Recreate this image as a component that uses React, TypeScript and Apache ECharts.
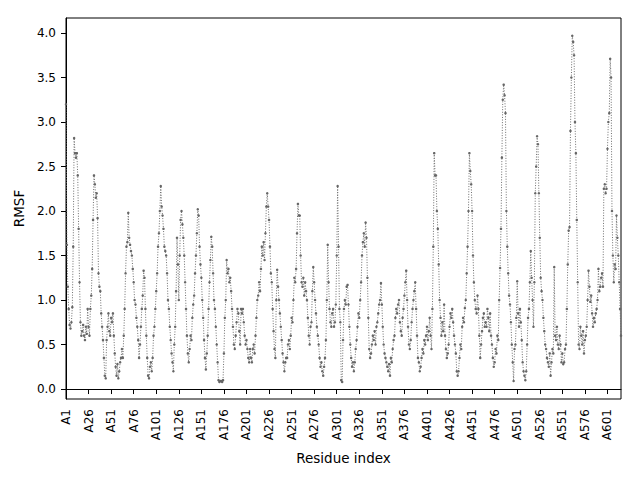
import React, { useEffect, useRef } from "react";
import * as echarts from "echarts";

// RMSF per residue (A1 .. A616)
const rmsfA1 = [
  3.2, 1.62, 1.15, 0.9, 0.72, 0.68, 0.75, 0.92, 1.6, 2.82,
  2.65, 2.6, 2.65, 2.4, 1.8, 1.2, 0.75, 0.6, 0.65, 0.72,
  0.6, 0.55, 0.7, 0.62, 0.9, 0.7, 0.6, 0.9, 1.05, 1.35,
  1.9, 2.4, 2.3, 2.15, 2.2, 1.92, 1.3, 1.15, 1.1, 0.85,
  0.7, 0.55, 0.35, 0.15, 0.12, 0.55, 0.7, 0.85, 0.65, 0.6,
  0.8, 0.75, 0.85, 0.6, 0.4, 0.25, 0.15, 0.28, 0.12, 0.2,
  0.3, 0.35, 0.45, 0.35, 0.6, 0.9, 1.3, 1.6, 1.65,
  1.98, 1.7, 1.62, 1.55, 1.5, 1.35, 1.2, 1.0, 0.95, 0.8,
  0.7, 0.55, 0.35, 0.5, 0.7, 0.9, 1.05, 1.33, 1.25, 0.9,
  0.6, 0.35, 0.15, 0.12, 0.25, 0.3, 0.2, 0.35, 0.6, 0.7,
];
const rmsfA100 = [
  0.9, 1.1, 1.3, 1.6, 1.75, 2.0, 2.28, 2.05, 1.95, 1.8,
  1.6, 1.55, 1.5, 1.3, 1.0, 0.9, 0.7, 0.55, 0.4, 0.3,
  0.2, 0.5, 0.7, 1.1, 1.7, 1.4, 1.0, 1.5, 1.9, 2.0,
  1.85, 1.7, 1.5, 1.2, 0.9, 0.6, 0.4, 0.3, 0.45, 0.6,
  0.55, 0.8, 0.95, 1.05, 1.3, 1.5, 1.75, 2.02, 1.95, 1.6,
  1.4, 1.25, 1.0, 0.8, 0.55, 0.35, 0.22, 0.4, 0.6, 0.9,
  1.2, 1.45, 1.71, 1.6, 1.3, 1.0, 0.9, 0.7, 0.5, 0.3,
  0.1, 0.08, 0.09, 0.09, 0.08, 0.1, 0.4, 0.8, 1.0,
  1.45, 1.3, 1.35, 1.2, 1.25, 1.1, 0.9, 0.7, 0.5, 0.45,
  0.6, 0.75, 0.9, 0.85, 0.65, 0.5, 0.9, 0.85, 0.9, 0.75,
];
const rmsfA199 = [
  0.6, 0.5, 0.55, 0.45, 0.35, 0.3, 0.45, 0.35, 0.3, 0.45,
  0.5, 0.4, 0.6, 0.8, 1.0, 1.05, 1.2, 1.1, 1.35, 1.6,
  1.5, 1.65, 1.45, 1.75, 2.05, 2.2, 2.05, 1.9, 1.6, 1.3,
  1.2, 0.9, 0.65, 0.45, 0.35, 1.0, 1.34, 1.15, 1.0, 0.85,
  0.7, 0.55, 0.4, 0.3, 0.2, 0.3, 0.35, 0.35, 0.5,
  0.55, 0.45, 0.6, 0.8, 0.75, 1.0, 1.25, 1.2, 1.35, 1.75,
  2.08, 1.95, 1.95, 1.5, 1.2, 1.15, 1.25, 1.05, 1.2, 1.1,
  1.0, 0.8, 0.6, 0.5, 0.7, 0.75, 1.1, 1.37, 1.2, 1.0,
  0.85, 0.7, 0.6, 0.5, 0.35, 0.25, 0.3, 0.2, 0.15, 0.25,
  0.35, 0.55, 1.0, 1.62, 1.2, 0.9, 0.75, 0.7, 0.85, 0.9,
];
const rmsfA298 = [
  0.7, 0.75, 0.95, 1.5, 2.28, 1.6, 0.9, 0.75, 0.1, 0.08,
  0.55, 0.9, 1.0, 0.95, 1.15, 1.17, 0.95, 0.7, 0.5, 0.35,
  0.25, 0.3, 0.2, 0.3, 0.45, 0.55, 0.7, 0.85, 0.8, 1.0,
  1.2, 1.5, 1.65, 1.75, 1.6, 1.87, 1.7, 1.25, 0.8, 0.45,
  0.35, 0.4, 0.5, 0.6, 0.55, 0.65, 0.5, 0.7, 0.75,
  0.85, 0.95, 1.0, 1.19, 0.95, 0.7, 0.5, 0.4, 0.35, 0.3,
  0.25, 0.2, 0.28, 0.15, 0.35, 0.3, 0.45, 0.55, 0.6, 0.8,
  0.9, 0.85, 0.95, 1.0, 0.75, 0.65, 0.6, 0.8, 0.9, 1.05,
  1.2, 1.33, 1.0, 0.7, 0.5, 0.45, 0.55, 0.75, 0.9, 1.0,
  1.1, 1.2, 0.9, 0.6, 0.35, 0.3, 0.2, 0.25, 0.35, 0.45,
];
const rmsfA397 = [
  0.4, 0.55, 0.5, 0.6, 0.7, 0.55, 0.65, 0.8, 0.6, 0.45,
  0.9, 1.6, 2.65, 2.4, 2.4, 2.0, 1.8, 1.4, 1.0, 0.8,
  0.6, 0.75, 0.65, 0.95, 0.6, 0.45, 0.35, 0.4, 0.5, 0.7,
  0.85, 0.8, 0.9, 0.75, 0.6, 0.5, 0.4, 0.2, 0.15,
  0.2, 0.35, 0.5, 0.45, 0.7, 0.8, 0.75, 0.91, 1.0, 1.3,
  1.6, 2.0, 2.65, 2.45, 2.3, 2.0, 1.5, 1.2, 1.0, 0.9,
  0.85, 1.05, 0.9, 0.6, 0.35, 0.5, 0.65, 0.8, 0.85, 0.7,
  0.75, 0.7, 0.9, 0.8, 0.65, 0.85, 0.6, 0.5, 0.35, 0.25,
  0.3, 0.45, 0.4, 0.6, 0.55, 1.0, 1.36, 1.8, 2.6, 3.25,
  3.42, 3.3, 3.1, 2.0, 1.6, 1.3, 1.05, 0.95, 0.75, 0.5,
];
const rmsfA496 = [
  0.3, 0.09, 0.45, 0.5, 0.8, 1.21, 0.85, 0.7, 0.9, 0.75,
  0.55, 0.3, 0.2, 0.15, 0.1, 0.2, 0.5, 0.8, 0.9, 1.2,
  1.55, 1.25, 1.0, 0.7, 1.2, 2.2, 2.5, 2.84, 2.75, 2.2,
  1.7, 1.25, 1.1, 1.0, 0.8, 0.65, 0.5, 0.45, 0.35, 0.3,
  0.25, 0.4, 0.15, 0.3, 0.45, 0.4, 1.37, 0.6, 0.55, 0.7,
  0.5, 0.45, 0.6, 0.5, 0.3, 0.4, 0.28, 0.3, 0.45,
  0.5, 0.9, 1.4, 1.78, 1.82, 2.9, 3.5, 3.97, 3.9, 3.75,
  3.0, 2.65, 1.9, 1.2, 0.5, 0.45, 0.7, 0.6, 0.5, 0.65,
  0.4, 0.55, 0.6, 0.7, 1.0, 1.33, 1.15, 0.98, 1.05, 0.85,
  0.7, 0.8, 0.75, 0.85, 0.9, 1.0, 1.35, 1.1, 1.15, 1.25,
];
const rmsfA595 = [
  1.3, 1.15, 2.25, 2.3, 2.2, 2.25, 2.7, 3.0, 3.1, 3.71,
  3.5, 2.0, 1.5, 1.2, 1.4, 1.35, 1.95, 1.7, 1.5, 1.2,
  0.9, 0.6,
];

const rmsf = [
  ...rmsfA1, ...rmsfA100, ...rmsfA199, ...rmsfA298,
  ...rmsfA397, ...rmsfA496, ...rmsfA595,
];
const residues = rmsf.map((_, i) => `A${i + 1}`);
const yTicks = [0, 0.5, 1, 1.5, 2, 2.5, 3, 3.5, 4];
const labelEvery = 25;

export default function App() {
  const ref = useRef<HTMLDivElement>(null);
  useEffect(() => {
    const chart = echarts.init(ref.current as HTMLDivElement, null, { renderer: "svg" });
    const font = "DejaVu Sans";
    chart.setOption({
      animation: false,
      backgroundColor: "#ffffff",
      textStyle: { fontFamily: font },
      grid: {
        left: 66, right: 19, top: 18, bottom: 81,
        show: true, borderColor: "#000", borderWidth: 1, backgroundColor: "transparent",
      },
      xAxis: {
        type: "category",
        data: residues,
        boundaryGap: false,
        name: "Residue index",
        nameLocation: "middle",
        nameGap: 52,
        nameTextStyle: { fontSize: 13.5, color: "#000", fontFamily: font },
        axisLine: { show: true, lineStyle: { color: "#000", width: 1 } },
        axisTick: {
          show: true, length: 5,
          interval: (i: number) => i % labelEvery === 0,
          lineStyle: { color: "#000", width: 1 },
        },
        axisLabel: {
          interval: (i: number) => i % labelEvery === 0,
          rotate: 90, fontSize: 12, color: "#000", margin: 10, fontFamily: font,
        },
        splitLine: { show: false },
      },
      yAxis: {
        type: "value",
        min: -0.112,
        max: 4.169,
        name: "RMSF",
        nameLocation: "middle",
        nameGap: 38,
        nameTextStyle: { fontSize: 13.5, color: "#000", fontFamily: font },
        axisLine: { show: true, lineStyle: { color: "#000", width: 1 } },
        axisTick: { show: true, length: 5, customValues: yTicks, lineStyle: { color: "#000", width: 1 } },
        axisLabel: {
          customValues: yTicks,
          formatter: (v: number) => v.toFixed(1),
          fontSize: 12, color: "#000", margin: 10, fontFamily: font,
        },
        splitLine: { show: false },
      },
      series: [
        {
          type: "line",
          data: rmsf,
          showAllSymbol: true,
          symbol: "circle",
          symbolSize: 2.5,
          itemStyle: { color: "#666666" },
          lineStyle: { color: "#6e6e6e", width: 1, type: [1, 1.6] },
          emphasis: { disabled: true },
        },
      ],
    });
    return () => chart.dispose();
  }, []);
  return (
    <div
      ref={ref}
      style={{ position: "fixed", left: 0, top: 0, width: 640, height: 480 }}
    />
  );
}
